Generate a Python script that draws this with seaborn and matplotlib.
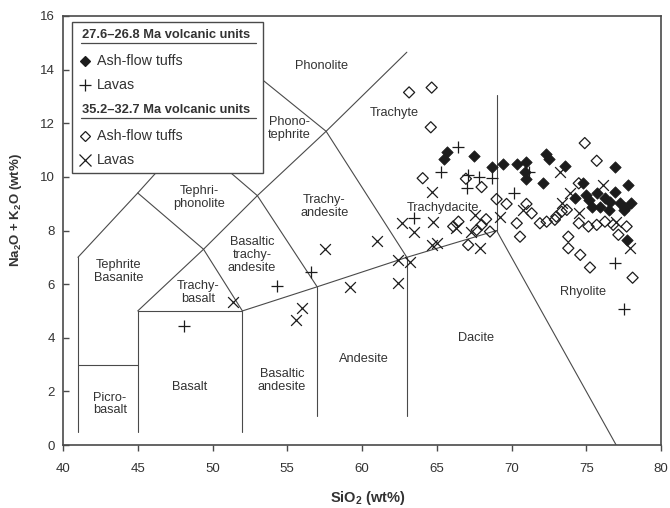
import matplotlib
matplotlib.use("Agg")
import matplotlib.pyplot as plt
import seaborn as sns
import pandas as pd
from matplotlib.patches import Rectangle
from matplotlib.lines import Line2D

# ---------------- data ----------------
young_tuff_sio2 = [65.7, 65.5, 67.5, 68.7, 69.4, 70.35, 70.97, 70.9, 71.0, 72.3, 72.5, 72.1,
                   73.6, 76.9, 74.8, 74.25, 75.7, 76.9, 77.8, 75.4, 76.6, 77.26, 78.0, 75.9,
                   76.5, 77.6, 77.7, 76.25, 75.2, 77.5, 75.0]
young_tuff_alk = [10.94, 10.66, 10.76, 10.38, 10.49, 10.47, 10.55, 10.2, 9.91, 10.85, 10.66, 9.76,
                  10.41, 10.38, 9.76, 9.2, 9.39, 9.45, 9.7, 8.89, 9.08, 9.02, 9.02, 8.89,
                  8.77, 8.83, 7.65, 9.2, 9.14, 8.77, 9.33]

young_lava_sio2 = [48.1, 54.3, 56.6, 63.5, 65.3, 66.4, 67.1, 67.8, 68.7, 67.05, 70.2, 71.2,
                   76.9, 77.5]
young_lava_alk = [4.45, 5.93, 6.47, 8.46, 10.17, 11.1, 10.07, 10.01, 9.95, 9.58, 9.39, 10.2,
                  6.78, 5.07]

old_tuff_sio2 = [63.15, 64.66, 64.6, 64.06, 66.95, 68.0, 69.0, 69.67, 71.0, 71.35, 70.35, 70.57,
                 71.9, 72.35, 72.9, 66.45, 66.1, 68.3, 68.0, 67.67, 68.56, 67.1, 74.9, 75.7,
                 74.5, 73.0, 73.35, 73.7, 74.5, 75.15, 75.7, 76.25, 76.8, 77.7, 77.15, 73.8,
                 73.8, 74.6, 75.25, 78.1]
old_tuff_alk = [13.15, 13.33, 11.85, 9.95, 9.93, 9.62, 9.17, 8.99, 8.99, 8.64, 8.27, 7.77,
                8.27, 8.33, 8.4, 8.33, 8.15, 8.42, 8.21, 8.02, 7.96, 7.46, 11.26, 10.6,
                9.76, 8.52, 8.7, 8.77, 8.27, 8.15, 8.21, 8.33, 8.21, 8.15, 7.84, 7.77,
                7.34, 7.09, 6.62, 6.24]

old_lava_sio2 = [51.4, 55.6, 56.0, 57.5, 59.2, 61.0, 62.4, 62.4, 63.2, 64.66, 65.0, 64.66,
                 62.65, 63.5, 64.77, 67.56, 69.2, 70.8, 67.3, 67.9, 66.3, 73.25, 76.1, 73.9,
                 73.35, 74.5, 77.0, 77.9]
old_lava_alk = [5.35, 4.66, 5.1, 7.3, 5.88, 7.59, 6.9, 6.06, 6.84, 7.46, 7.52, 9.45,
                8.27, 7.96, 8.33, 8.58, 8.52, 8.77, 7.96, 7.34, 8.08, 10.2, 9.7, 9.39,
                9.02, 8.64, 8.33, 7.34]

# TAS field boundaries (x list, y list)
boundaries = [
    ([41, 41], [0.5, 7]),
    ([41, 45], [3, 3]),
    ([45, 45], [0.5, 5]),
    ([45, 52], [5, 5]),
    ([52, 52], [0.5, 5]),
    ([52, 57, 63, 69], [5, 5.9, 7, 8]),
    ([57, 57], [1.1, 5.9]),
    ([63, 63], [1.1, 7]),
    ([69, 77.0], [8, 0]),
    ([69, 69], [8, 13.05]),
    ([41, 45, 48.4, 52.5], [7, 9.4, 11.5, 14]),
    ([45, 49.4, 53, 57.6, 63.0], [5, 7.3, 9.3, 11.7, 14.65]),
    ([52, 49.4, 45], [5, 7.3, 9.4]),
    ([57, 53, 48.4], [5.9, 9.3, 11.5]),
    ([63, 57.6, 52.5], [7, 11.7, 14]),
]

field_names = ["Phonolite", "Phono-\ntephrite", "Trachyte", "Tephri-\nphonolite",
               "Trachy-\nandesite", "Basaltic\ntrachy-\nandesite", "Tephrite\nBasanite",
               "Trachy-\nbasalt", "Trachydacite", "Basalt", "Picro-\nbasalt",
               "Basaltic\nandesite", "Andesite", "Dacite", "Rhyolite"]
field_x = [57.3, 55.15, 62.15, 49.1, 57.5, 52.65, 43.75, 49.05, 65.45, 48.5, 43.15,
           54.65, 60.15, 67.65, 74.8]
field_y = [14.15, 11.8, 12.4, 9.22, 8.9, 7.1, 6.47, 5.7, 8.85, 2.18, 1.53,
           2.4, 3.2, 4.0, 5.7]

x_ticks = [40, 45, 50, 55, 60, 65, 70, 75, 80]
y_ticks = [0, 2, 4, 6, 8, 10, 12, 14, 16]

# ---------------- styling ----------------
sns.set_theme(style="white")
plt.rcParams["font.family"] = ["Liberation Sans", "DejaVu Sans"]
plt.rcParams["mathtext.fontset"] = "custom"
plt.rcParams["mathtext.rm"] = "Liberation Sans:bold"
plt.rcParams["mathtext.it"] = "Liberation Sans:bold"
plt.rcParams["mathtext.bf"] = "Liberation Sans:bold"

INK = "#1c1c1c"
LINE = "#4a4a4a"
TXT = "#333333"

fig = plt.figure(figsize=(6.7, 5.08), dpi=100)
ax = fig.add_axes([63 / 670, 63 / 508, 598 / 670, 429 / 508])

for xs, ys in boundaries:
    ax.plot(xs, ys, color=LINE, lw=0.8, zorder=1)

for name, fx_, fy_ in zip(field_names, field_x, field_y):
    ax.text(fx_, fy_, name, ha="center", va="center", fontsize=9.2, color=TXT,
            linespacing=1.1, zorder=2)

df_yt = pd.DataFrame({"SiO2": young_tuff_sio2, "alk": young_tuff_alk})
df_yl = pd.DataFrame({"SiO2": young_lava_sio2, "alk": young_lava_alk})
df_ot = pd.DataFrame({"SiO2": old_tuff_sio2, "alk": old_tuff_alk})
df_ol = pd.DataFrame({"SiO2": old_lava_sio2, "alk": old_lava_alk})

sns.scatterplot(data=df_ot, x="SiO2", y="alk", marker="D", s=32, color=INK,
                facecolor="none", edgecolor=INK, linewidth=0.9, ax=ax, legend=False, zorder=3)
sns.scatterplot(data=df_ol, x="SiO2", y="alk", marker="x", s=60, color=INK,
                linewidth=0.9, ax=ax, legend=False, zorder=3)
sns.scatterplot(data=df_yl, x="SiO2", y="alk", marker="+", s=70, color=INK,
                linewidth=0.9, ax=ax, legend=False, zorder=3)
sns.scatterplot(data=df_yt, x="SiO2", y="alk", marker="D", s=34, color=INK,
                edgecolor=INK, linewidth=0.5, ax=ax, legend=False, zorder=4)

ax.set_xlim(40, 80)
ax.set_ylim(0, 16)
ax.set_xticks(x_ticks)
ax.set_yticks(y_ticks)
ax.tick_params(axis="x", direction="out", length=4, width=1, pad=9, labelsize=9.5,
               colors=LINE, labelcolor=TXT, bottom=True)
ax.tick_params(axis="y", direction="in", length=4, width=1, pad=6, labelsize=9.5,
               colors=LINE, labelcolor=TXT, left=True)
for side, sp in ax.spines.items():
    sp.set_visible(True)
    sp.set_color(LINE)
    sp.set_linewidth(1.2)


def fx(px):
    return (px - 63) / 598


def fy(py):
    return (445 - py) / 429


ax.set_xlabel("SiO$_2$ (wt%)", fontsize=10.5, fontweight="bold", color=TXT, va="center")
ax.set_ylabel("Na$_2$O + K$_2$O (wt%)", fontsize=9.5, fontweight="bold", color=TXT,
              va="center")
ax.xaxis.set_label_coords(fx(368), fy(498))
ax.yaxis.set_label_coords(fx(16), fy(210))

# ---------------- legend box ----------------
ax.add_patch(Rectangle((fx(72), fy(173)), fx(263) - fx(72), fy(22) - fy(173),
                       transform=ax.transAxes, facecolor="white", edgecolor=LINE,
                       lw=1.0, zorder=6))
hx, mx, tx = fx(81.5), fx(84.5), fx(97)
ax.text(hx, fy(35), "27.6–26.8 Ma volcanic units", transform=ax.transAxes,
        fontsize=9.3, fontweight="bold", color=TXT, va="center", ha="left", zorder=7)
ax.add_line(Line2D([fx(81), fx(256)], [fy(43), fy(43)], transform=ax.transAxes,
                   color=LINE, lw=0.9, zorder=7))
ax.text(hx, fy(110), "35.2–32.7 Ma volcanic units", transform=ax.transAxes,
        fontsize=9.3, fontweight="bold", color=TXT, va="center", ha="left", zorder=7)
ax.add_line(Line2D([fx(81), fx(256)], [fy(118), fy(118)], transform=ax.transAxes,
                   color=LINE, lw=0.9, zorder=7))

legend_rows = [(61, "D", INK, "Ash-flow tuffs"), (85, "+", INK, "Lavas"),
               (136, "D", "none", "Ash-flow tuffs"), (160, "x", INK, "Lavas")]
for py, mk, fc, lab in legend_rows:
    ms = 5.5 if mk == "D" else 8
    ax.add_line(Line2D([mx], [fy(py)], transform=ax.transAxes, marker=mk, markersize=ms,
                       markerfacecolor=fc, markeredgecolor=INK, markeredgewidth=0.9,
                       linestyle="none", zorder=7))
    ax.text(tx, fy(py), lab, transform=ax.transAxes, fontsize=10.3, color=TXT,
            va="center", ha="left", zorder=7)

fig.savefig("out.png", dpi=100)
